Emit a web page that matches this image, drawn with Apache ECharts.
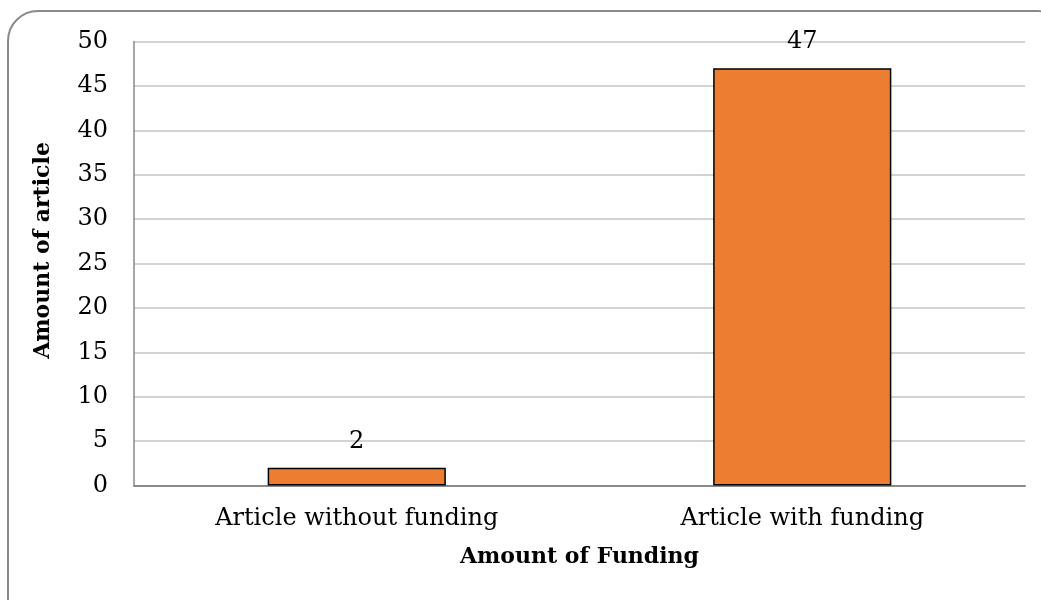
<!DOCTYPE html>
<html><head><meta charset="utf-8">
<script src="https://cdn.jsdelivr.net/npm/echarts@6/dist/echarts.min.js"></script>
<style>html,body{margin:0;padding:0;background:#fff;}#c{width:1041px;height:600px;}</style>
</head><body><div id="c"></div>
<script>
const categories = ['Article without funding', 'Article with funding'];
const values = [2, 47];
const yTicks = { min: 0, max: 50, interval: 5 };
const xName = 'Amount of Funding';
const yName = 'Amount of article';

const FONT = 'DejaVu Serif';
const chart = echarts.init(document.getElementById('c'), null, { renderer: 'canvas' });
chart.setOption({
  animation: false,
  backgroundColor: '#fff',
  textStyle: { fontFamily: FONT, color: '#000' },
  graphic: [{
    type: 'rect', z: -1,
    shape: { x: 8, y: 11, width: 1060, height: 620, r: 30 },
    style: { fill: 'none', stroke: '#8a8a8a', lineWidth: 2 }
  }],
  grid: { left: 134, right: 16, top: 41.5, bottom: 114.5, containLabel: false },
  xAxis: {
    type: 'category', data: categories,
    name: xName, nameLocation: 'middle', nameGap: 61,
    nameTextStyle: { fontFamily: FONT, fontWeight: 'bold', fontSize: 22, color: '#000' },
    axisLine: { lineStyle: { color: '#8a8a8a', width: 2 } },
    axisTick: { show: false },
    axisLabel: { fontFamily: FONT, fontSize: 24, color: '#000', margin: 21 }
  },
  yAxis: {
    type: 'value', min: yTicks.min, max: yTicks.max, interval: yTicks.interval,
    name: yName, nameLocation: 'middle', nameGap: 80,
    nameTextStyle: { fontFamily: FONT, fontWeight: 'bold', fontSize: 22, color: '#000', padding: [0, 0, 0, 26] },
    axisLine: { show: true, lineStyle: { color: '#8a8a8a', width: 1.5 } },
    axisTick: { show: false },
    axisLabel: { fontFamily: FONT, fontSize: 24, color: '#000', margin: 26 },
    splitLine: { lineStyle: { color: '#c4c4c4', width: 1.5 } }
  },
  series: [{
    type: 'bar', data: values, barCategoryGap: '60%',
    itemStyle: { color: '#ED7D31', borderColor: '#000', borderWidth: 1.5 },
    label: { show: true, position: 'top', distance: 14, fontFamily: FONT, fontSize: 24, color: '#000' }
  }]
});
</script></body></html>
